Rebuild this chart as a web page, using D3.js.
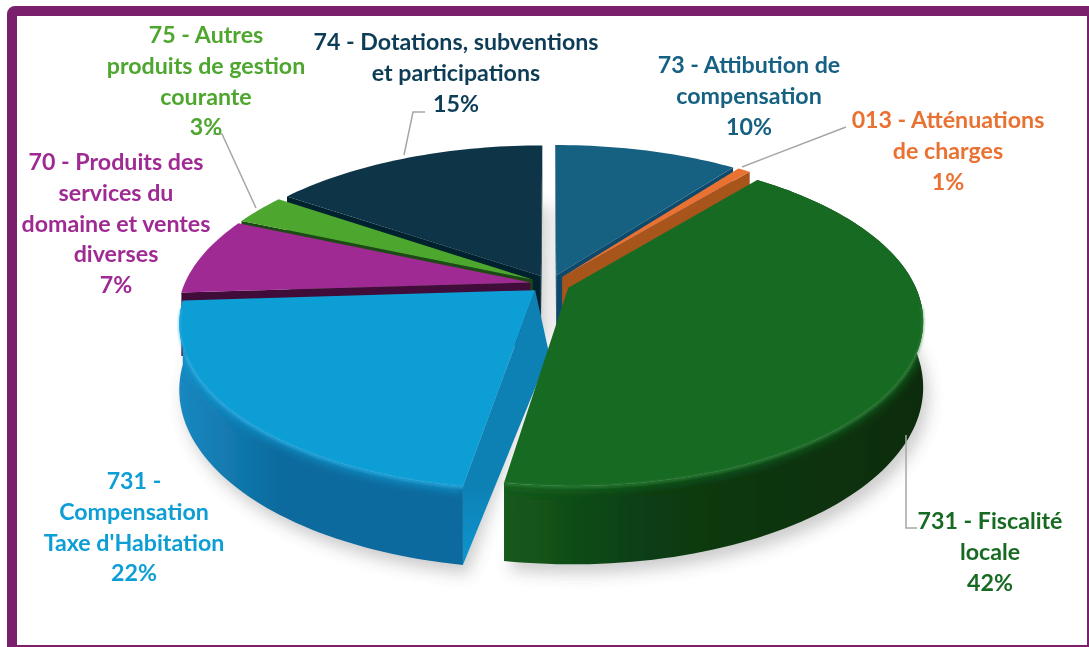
<!DOCTYPE html>
<html>
<head>
<meta charset="utf-8">
<script src="https://cdn.jsdelivr.net/npm/d3@7"></script>
<style>
    html, body { margin: 0; padding: 0; background: #fff; overflow: hidden; }
    svg { display: block; }
    text { font-family: Lato, sans-serif; font-weight: 700; font-size: 23.2px; text-anchor: middle; }
</style>
</head>
<body>
<svg id="chart" width="1089" height="647"></svg>
<script>
// slices go clockwise from 12 o'clock
const names = ['73', '013', '731 F', '731 C', '70', '75', '74'];
const values = [10.2, 0.7, 41.65, 21.45, 7.6, 3, 15.4];
const topColors = ['#156082', '#e97132', '#196b24', '#0f9ed5', '#a02b93', '#4ea72e', '#0b3447'];
const wallColors = [
    ['#0f4a68', '#0f4a68'], ['#a8541f', '#a8541f'], ['#145a1c', '#0a2c0d'], ['#1a88c0', '#0b6b9e'],
    ['#4a1043', '#4a1043'], ['#2a5e1a', '#2a5e1a'], ['#06222f', '#06222f']
];
const faceColors = ['#0d4a6b', '#a8541f', '#0f4a17', '#0d80b4', '#3f0d3a', '#1f4a12', '#03202e'];
const rimColors = ['#2a7ca3', '#f08a50', '#3f8f48', '#3fb9ee', '#b84aa8', '#6cc04c', '#1a4f68'];

const labelLines = [
    ['73 - Attibution de', 'compensation', '10%'],
    ['013 - Atténuations', 'de charges', '1%'],
    ['731 - Fiscalité', 'locale', '42%'],
    ['731 -', 'Compensation', "Taxe d'Habitation", '22%'],
    ['70 - Produits des', 'services du', 'domaine et ventes', 'diverses', '7%'],
    ['75 - Autres', 'produits de gestion', 'courante', '3%'],
    ['74 - Dotations, subventions', 'et participations', '15%']
];
const labelColors = ['#156082', '#e97132', '#196b24', '#0f9ed5', '#a02b93', '#4ea72e', '#0f3e56'];
const labelAnchors = [[749, 73], [948, 128], [990, 529], [134, 489], [116, 170], [206, 43], [456, 50]];
const lineStep = 30.8;

// leader lines, only where the label sits away from its slice
const leaders = [
    [[742, 167], [846, 127]],
    [[404, 155], [413, 112], [425, 112]],
    [[256, 208], [222, 134], [213, 134]],
    [[906, 435], [906, 528], [917, 528]]
];

const cx = 550, cy = 284;
const R = 346, Rk = 158.5;   // disc radii on screen
const persp = 0.192;         // front of the disc is nearer
const explode = 0.0575;
const thick = 63;
const faceLean = 14;         // foot of the blue cut face leans right

const svg = d3.select('#chart');
const defs = svg.append('defs');

const addBlur = (id, dev) => defs.append('filter')
    .attr('id', id)
    .attr('x', '-20%').attr('y', '-20%').attr('width', '140%').attr('height', '140%')
    .append('feGaussianBlur').attr('stdDeviation', dev);
addBlur('shadowBlur', 8);
addBlur('glowBlur', 4);
addBlur('rimBlur', 1.2);
addBlur('soft', 0.5);

const arcs = d3.pie().sort(null).value(d => d)(values);

function project(slice, angle, r, depth) {
    const mid = (slice.startAngle + slice.endAngle) / 2;
    const X = explode * Math.sin(mid) + r * Math.sin(angle);
    const Y = -explode * Math.cos(mid) - r * Math.cos(angle);
    const s = 1 / (1 - persp * Y);
    return [cx + R * X * s, cy + Rk * Y * s + depth * thick * s];
}

function arcAngles(slice) {
    const n = Math.max(4, Math.ceil((slice.endAngle - slice.startAngle) * 40));
    return d3.range(n + 1).map(i => slice.startAngle + (slice.endAngle - slice.startAngle) * i / n);
}

const outerArc = (slice, depth) => arcAngles(slice).map(a => project(slice, a, 1, depth));

const line = d3.line();
const closed = pts => line(pts) + 'Z';

// frame, right and bottom sides run off the picture
svg.append('rect')
    .attr('x', 12).attr('y', 11)
    .attr('width', 1080).attr('height', 639)
    .attr('rx', 3)
    .attr('fill', '#fff')
    .attr('stroke', '#7a1f6b')
    .attr('stroke-width', 10);

const pieGroup = svg.append('g').attr('filter', 'url(#soft)');

// soft shadow of the lower disc
const shadow = pieGroup.append('g')
    .attr('filter', 'url(#shadowBlur)')
    .attr('opacity', 0.3)
    .attr('transform', 'translate(5, 9)');
arcs.forEach(slice => {
    shadow.append('path')
        .attr('d', closed([project(slice, 0, 0, 1), ...outerArc(slice, 1)]))
        .attr('fill', '#555');
});

// paint back slices first, the big green one goes over the blue cut face
const depthOf = i => -Math.cos((arcs[i].startAngle + arcs[i].endAngle) / 2);
const order = d3.range(arcs.length)
    .sort((a, b) => depthOf(a) - depthOf(b))
    .filter(i => i !== 2)
    .concat(2);

order.forEach(i => {
    const slice = arcs[i];
    const g = pieGroup.append('g').attr('class', 'slice').attr('data-name', names[i]);
    const topArc = outerArc(slice, 0);
    const bottomArc = outerArc(slice, 1);
    const apexTop = project(slice, 0, 0, 0);
    const apexBottom = project(slice, 0, 0, 1);
    if (i === 3) apexBottom[0] += faceLean;

    // the cut faces, only those turned towards the viewer
    const faces = [];
    if (Math.sin(slice.startAngle) < 0.01) faces.push([topArc[0], bottomArc[0]]);
    if (Math.sin(slice.endAngle) > -0.01) faces.push([topArc[topArc.length - 1], bottomArc[bottomArc.length - 1]]);
    faces.forEach((f, j) => {
        const gradId = `face-${i}-${j}`;
        const grad = defs.append('linearGradient')
            .attr('id', gradId)
            .attr('gradientUnits', 'userSpaceOnUse')
            .attr('x1', 0).attr('y1', apexTop[1])
            .attr('x2', 0).attr('y2', f[1][1]);
        grad.append('stop').attr('offset', 0.7).attr('stop-color', faceColors[i]);
        grad.append('stop').attr('offset', 1)
            .attr('stop-color', i === 3 ? '#0f96d0' : faceColors[i]);
        g.append('path')
            .attr('d', closed([apexTop, f[0], f[1], apexBottom]))
            .attr('fill', `url(#${gradId})`);
    });

    // outer wall, slices at the back never show one
    if (depthOf(i) > 0) {
        const wallId = `wall-${i}`;
        const xs = topArc.map(p => p[0]);
        const wall = defs.append('linearGradient')
            .attr('id', wallId)
            .attr('gradientUnits', 'userSpaceOnUse')
            .attr('x1', d3.min(xs)).attr('y1', 0)
            .attr('x2', d3.max(xs)).attr('y2', 0);
        wall.append('stop').attr('offset', 0).attr('stop-color', wallColors[i][0]);
        wall.append('stop').attr('offset', 0.35).attr('stop-color', i === 2 ? '#0d3d12' : wallColors[i][1]);
        wall.append('stop').attr('offset', 1).attr('stop-color', wallColors[i][1]);

        const wallPath = closed([...topArc, ...bottomArc.slice().reverse()]);
        g.append('path').attr('d', wallPath).attr('fill', `url(#${wallId})`);

        // bevel along the rim, kept inside the wall
        const clipId = `clip-${i}`;
        defs.append('clipPath').attr('id', clipId).append('path').attr('d', wallPath);
        g.append('g').attr('clip-path', `url(#${clipId})`)
            .append('path')
            .attr('d', line(topArc))
            .attr('fill', 'none')
            .attr('stroke', topColors[i])
            .attr('stroke-width', 10)
            .attr('opacity', 0.7)
            .attr('filter', 'url(#glowBlur)');
    }

    // top
    g.append('path')
        .attr('d', closed([apexTop, ...topArc]))
        .attr('fill', topColors[i]);

    // thin highlight on the front of the rim only
    const frontArc = arcAngles(slice)
        .filter(a => Math.cos(a) < -0.1)
        .map(a => project(slice, a, 1, 0));
    if (frontArc.length > 1) {
        g.append('path')
            .attr('d', line(frontArc))
            .attr('fill', 'none')
            .attr('stroke', rimColors[i])
            .attr('stroke-width', 2)
            .attr('opacity', 0.6)
            .attr('transform', 'translate(0, 1)')
            .attr('filter', 'url(#rimBlur)');
    }
});

// leaders
svg.append('g').selectAll('path')
    .data(leaders)
    .join('path')
    .attr('d', d => line(d))
    .attr('fill', 'none')
    .attr('stroke', '#a6a6a6')
    .attr('stroke-width', 1.5);

// labels
const labels = svg.append('g').attr('filter', 'url(#soft)');
labelLines.forEach((lines, i) => {
    const t = labels.append('text')
        .attr('fill', labelColors[i]);
    lines.forEach((s, j) => {
        t.append('tspan')
            .attr('x', labelAnchors[i][0])
            .attr('y', labelAnchors[i][1] + j * lineStep)
            .text(s);
    });
});
</script>
</body>
</html>
